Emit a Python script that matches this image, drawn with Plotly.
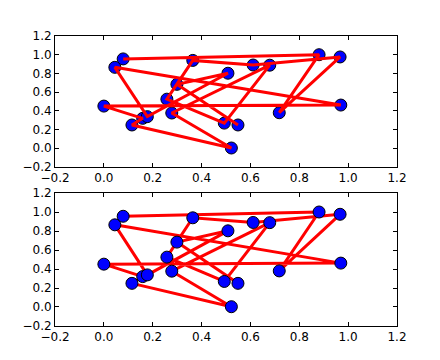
import plotly.graph_objects as go
from plotly.subplots import make_subplots

# point values in path order
x_vals = [0.079, 0.881, 0.718, 0.967, 0.611, 0.364, 0.258, 0.493, 0.679, 0.278,
          0.522, 0.115, 0.159, 0.000, 0.970, 0.045, 0.178, 0.508, 0.299, 0.549]
y_vals = [0.955, 1.000, 0.380, 0.976, 0.890, 0.939, 0.525, 0.269, 0.888, 0.377,
          0.003, 0.249, 0.320, 0.451, 0.462, 0.865, 0.338, 0.802, 0.683, 0.249]

tick_vals = [-0.2, 0.0, 0.2, 0.4, 0.6, 0.8, 1.0, 1.2]
tick_text = ["\u22120.2", "0.0", "0.2", "0.4", "0.6", "0.8", "1.0", "1.2"]

fig = make_subplots(rows=2, cols=1)

line_style = dict(color="#ff0000", width=3)
marker_style = dict(color="#0000ff", size=12, line=dict(color="black", width=1))

# top: markers under line
fig.add_trace(go.Scatter(x=x_vals, y=y_vals, mode="markers", marker=marker_style,
                         hoverinfo="skip"), row=1, col=1)
fig.add_trace(go.Scatter(x=x_vals, y=y_vals, mode="lines", line=line_style,
                         hoverinfo="skip"), row=1, col=1)
# bottom: line under markers
fig.add_trace(go.Scatter(x=x_vals, y=y_vals, mode="lines", line=line_style,
                         hoverinfo="skip"), row=2, col=1)
fig.add_trace(go.Scatter(x=x_vals, y=y_vals, mode="markers", marker=marker_style,
                         hoverinfo="skip"), row=2, col=1)

axis_common = dict(range=[-0.2, 1.2], tickvals=tick_vals, ticktext=tick_text,
                   ticks="inside", ticklen=4, tickwidth=1, tickcolor="black",
                   showline=True, linecolor="black", linewidth=1, mirror="allticks",
                   showgrid=False, zeroline=False,
                   tickfont=dict(family="DejaVu Sans", size=12, color="black"))

fig.update_xaxes(**axis_common)
fig.update_yaxes(**axis_common)
fig.update_yaxes(domain=[0.5483, 1.0], row=1, col=1)
fig.update_yaxes(domain=[0.0, 0.4586], row=2, col=1)
fig.update_xaxes(domain=[0.0, 1.0])

fig.update_layout(width=440, height=360, showlegend=False,
                  margin=dict(l=47, r=51, t=28, b=42),
                  paper_bgcolor="white", plot_bgcolor="white")

fig.write_html("out.html")
